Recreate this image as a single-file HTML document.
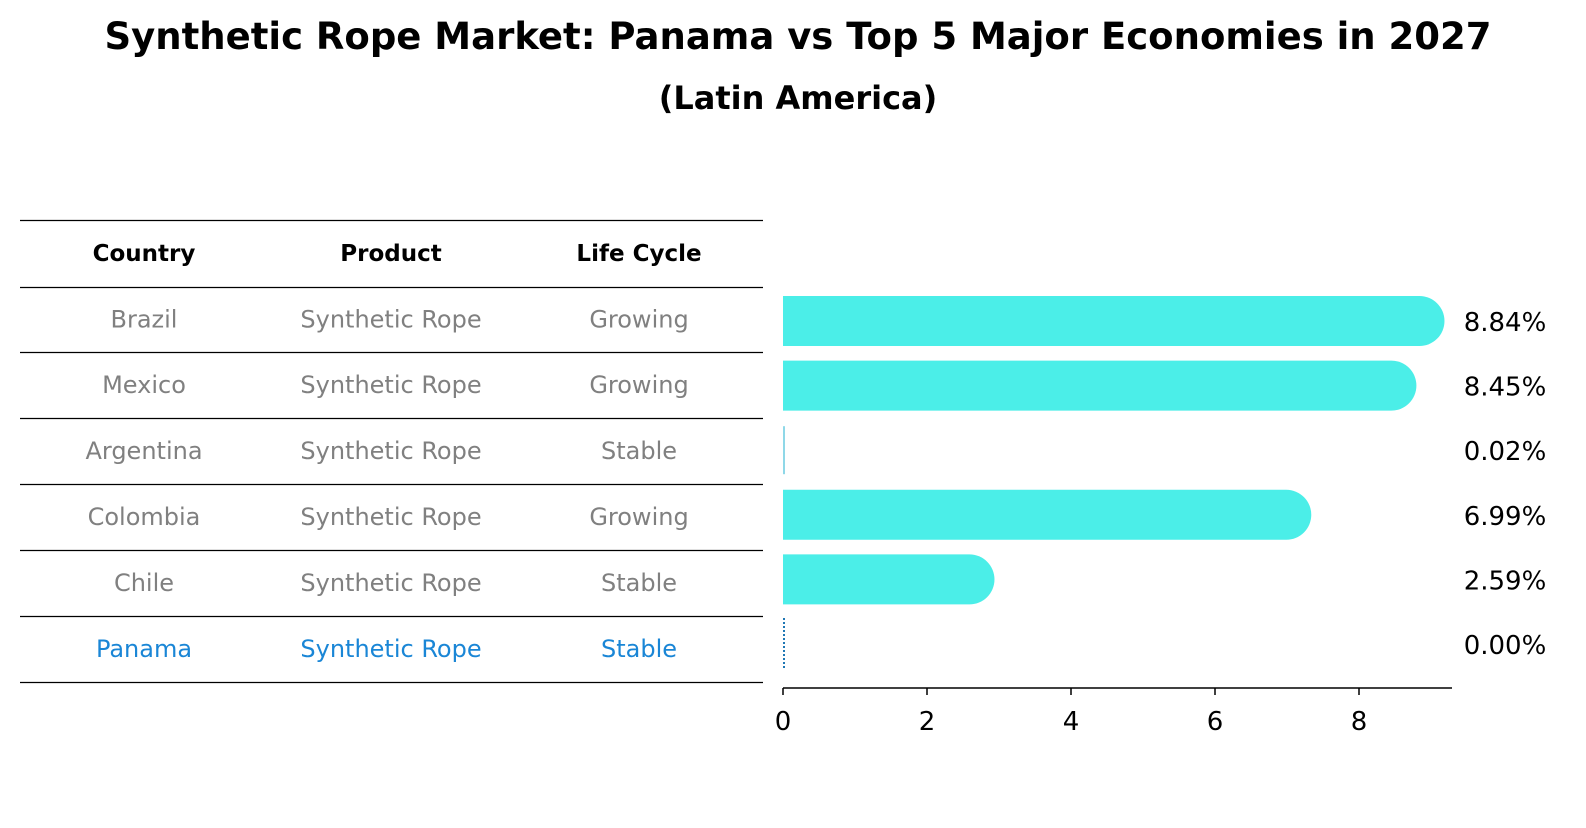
<!DOCTYPE html>
<html><head><meta charset="utf-8"><style>
body{margin:0;background:#fff;width:1586px;height:823px;overflow:hidden;font-family:"Liberation Sans","DejaVu Sans",sans-serif}
svg text{font-family:"DejaVu Sans","Liberation Sans",sans-serif}
</style></head><body>
<svg id="c" width="1586" height="823">
<text x="798" y="49" text-anchor="middle" font-size="37" font-weight="bold">Synthetic Rope Market: Panama vs Top 5 Major Economies in 2027</text>
<text x="798" y="109" text-anchor="middle" font-size="32" font-weight="bold">(Latin America)</text>
<g id="table"></g>
<g id="bars"></g>
</svg>
<script>
const countries=["Brazil","Mexico","Argentina","Colombia","Chile","Panama"];
const products=["Synthetic Rope","Synthetic Rope","Synthetic Rope","Synthetic Rope","Synthetic Rope","Synthetic Rope"];
const lifecycles=["Growing","Growing","Stable","Growing","Stable","Stable"];
const values=[8.84,8.45,0.02,6.99,2.59,0.00];
const ticks=[0,2,4,6,8];
const NS="http://www.w3.org/2000/svg";
function mk(tag,attrs,parent,txt){const e=document.createElementNS(NS,tag);for(const k in attrs)e.setAttribute(k,attrs[k]);if(txt!==undefined)e.textContent=txt;parent.appendChild(e);return e;}
const tbl=document.getElementById('table');
const lineYs=[220,287,352,418,484,550,616,682];
const colX=[144,391,639];
lineYs.forEach(y=>{const l=mk('line',{x1:20,x2:763,y1:y+0.5,y2:y+0.5,stroke:'#000','stroke-width':1.3},tbl);

});
["Country","Product","Life Cycle"].forEach((h,i)=>{const t=mk('text',{x:colX[i],y:261,'text-anchor':'middle','font-size':23,'font-weight':'bold'},tbl,h);

});
const rowY=i=>(lineYs[i+1]+lineYs[i+2])/2+8;
countries.forEach((c,i)=>{const col=c==="Panama"?"#1a86d6":"#808080";
[c,products[i],lifecycles[i]].forEach((v,j)=>{const t=mk('text',{x:colX[j],y:rowY(i),'text-anchor':'middle','font-size':24,fill:col},tbl,v);

});});
const bars=document.getElementById('bars');
const x0=783,ppu=72,xs=v=>x0+v*ppu;
const barCenter=i=>321+i*64.6,bh=50;
values.forEach((v,i)=>{const yc=barCenter(i);
if(v===0){const l=mk('line',{x1:xs(0)+1,x2:xs(0)+1,y1:yc-26,y2:yc+26,stroke:'#1f77b4','stroke-width':2,'stroke-dasharray':'2,2'},bars);

}
else if(v<0.5){const r=mk('rect',{x:x0,y:yc-bh/2+1,width:Math.max(2,xs(v)-x0),height:bh-2,fill:'#8fd8e8'},bars);

}
else{const w=xs(v)-x0;const p=mk('path',{d:`M${x0},${yc-bh/2}H${x0+w}A${bh/2},${bh/2} 0 0 1 ${x0+w},${yc+bh/2}H${x0}Z`,fill:'#4beee8'},bars);

}
const t=mk('text',{x:1505,y:yc+10,'text-anchor':'middle','font-size':26},bars,v.toFixed(2)+'%');

});
const ax=mk('line',{x1:x0,x2:1452,y1:688,y2:688,stroke:'#000','stroke-width':1.5},bars);


ticks.forEach(t=>{const l=mk('line',{x1:xs(t),x2:xs(t),y1:688,y2:695,stroke:'#000','stroke-width':1.5},bars);


const tx=mk('text',{x:xs(t),y:730,'text-anchor':'middle','font-size':26},bars,String(t));

});
</script>
</body></html>
